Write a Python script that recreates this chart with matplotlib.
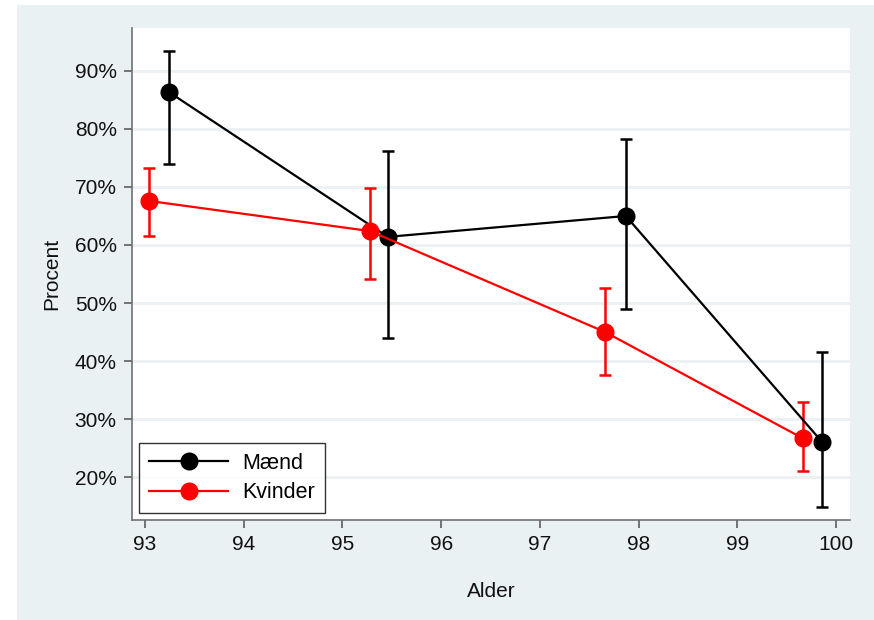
import matplotlib
matplotlib.use("Agg")
import matplotlib.pyplot as plt
from matplotlib.patches import Rectangle
from matplotlib.ticker import FuncFormatter

plt.rcParams['font.family'] = ['Liberation Sans', 'DejaVu Sans']

# Data
maend_x = [93.24, 95.46, 97.87, 99.86]
maend_y = [86.4, 61.4, 65.0, 26.0]
maend_lo = [74.0, 44.0, 49.0, 14.9]
maend_hi = [93.4, 76.2, 78.3, 41.6]

kvinder_x = [93.04, 95.28, 97.66, 99.66]
kvinder_y = [67.6, 62.4, 45.0, 26.7]
kvinder_lo = [61.6, 54.1, 37.6, 21.0]
kvinder_hi = [73.3, 69.8, 52.6, 32.9]

x_ticks = [93, 94, 95, 96, 97, 98, 99, 100]
y_ticks = [20, 30, 40, 50, 60, 70, 80, 90]

W, H = 874, 620
fig = plt.figure(figsize=(W / 100, H / 100), dpi=100, facecolor='white')
bg = '#EAF1F3'
fig.patches.append(Rectangle((17 / W, 0), 1 - 17 / W, (H - 5) / H,
                             transform=fig.transFigure, facecolor=bg,
                             edgecolor='none', zorder=-10))

ax = fig.add_axes([132 / W, (H - 520) / H, (850 - 132) / W, (520 - 28) / H])
ax.set_facecolor('white')

for yt in y_ticks:
    ax.axhline(yt, color=bg, lw=2, zorder=0)

def series(x, y, lo, hi, color, label):
    yerr = [[yy - l for yy, l in zip(y, lo)], [h - yy for yy, h in zip(y, hi)]]
    ax.errorbar(x, y, yerr=yerr, fmt='none', ecolor=color, elinewidth=1.8,
                capsize=4.5, capthick=1.8, zorder=3)
    ax.plot(x, y, color=color, lw=1.6, marker='o', markersize=12,
            markerfacecolor=color, markeredgecolor=color, label=label, zorder=4)

series(maend_x, maend_y, maend_lo, maend_hi, 'black', 'Mænd')
series(kvinder_x, kvinder_y, kvinder_lo, kvinder_hi, '#FF0000', 'Kvinder')

ax.set_xlim(92.87, 100.14)
ax.set_ylim(12.6, 97.4)
ax.set_xticks(x_ticks)
ax.set_yticks(y_ticks)
ax.yaxis.set_major_formatter(FuncFormatter(lambda v, p: f"{int(v)}%"))

for s in ['top', 'right']:
    ax.spines[s].set_visible(False)
for s in ['left', 'bottom']:
    ax.spines[s].set_color('#707070')
    ax.spines[s].set_linewidth(1.2)
ax.tick_params(axis='both', direction='out', length=6, width=1.1,
               color='#505050', labelsize=15, pad=5, labelcolor='#111111')

ax.set_xlabel('Alder', fontsize=15, labelpad=20, color='#111111')
ax.set_ylabel('Procent', fontsize=15, labelpad=10, color='#111111')

leg = ax.legend(loc='lower left', bbox_to_anchor=(7 / 718, 7 / 492),
                fontsize=15.5, frameon=True, fancybox=False, borderaxespad=0,
                handlelength=3.7, handletextpad=0.65, borderpad=0.45,
                labelspacing=0.4)
leg.get_frame().set_edgecolor('black')
leg.get_frame().set_linewidth(1.0)

fig.savefig('out.png', dpi=100, facecolor='white')
